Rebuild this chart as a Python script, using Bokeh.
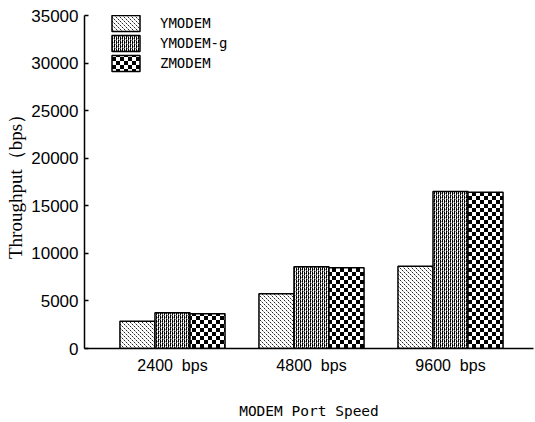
import base64
import struct
import zlib

from bokeh.plotting import figure
from bokeh.models import (ColumnDataSource, Range1d, FixedTicker, ImageURLTexture,
                          Legend, LegendItem)
from bokeh.core.properties import value
from bokeh.embed import file_html
from bokeh.resources import INLINE

# Port speeds and measured throughput (bps) for each protocol
speeds = ["2400\u00a0\u00a0bps", "4800\u00a0\u00a0bps", "9600\u00a0\u00a0bps"]
ymodem = [2870, 5750, 8650]
ymodem_g = [3750, 8590, 16500]
zmodem = [3650, 8480, 16430]
y_ticks = [0, 5000, 10000, 15000, 20000, 25000, 30000, 35000]

group_x = [i + 0.5 for i in range(len(speeds))]
bar_w = 0.252


def png_url(rows):
    """Encode a small bitmap of gray levels (0 = white, 1 = black) as a PNG data URL."""
    h, w = len(rows), len(rows[0])
    raw = b"".join(b"\x00" + bytes(int(round(255 * (1 - v))) for v in r) for r in rows)

    def chunk(tag, data):
        c = struct.pack(">I", len(data)) + tag + data
        return c + struct.pack(">I", zlib.crc32(tag + data) & 0xFFFFFFFF)

    png = (b"\x89PNG\r\n\x1a\n"
           + chunk(b"IHDR", struct.pack(">IIBBBBB", w, h, 8, 0, 0, 0, 0))
           + chunk(b"IDAT", zlib.compress(raw))
           + chunk(b"IEND", b""))
    return "data:image/png;base64," + base64.b64encode(png).decode()


# fine staggered stipple
stipple_tile = [
    [1, 0, 0, 0],
    [0, 0, 0, 0],
    [0, 0, 1, 0],
    [0, 0, 0, 0],
]
stipple_tile = [[v * 0.85 for v in r] for r in stipple_tile]
stipple_tile[1][1] = 0.35
stipple_tile[3][3] = 0.35

# dense vertical rules with small breaks
rules_tile = [
    [1, 0, 1, 0],
    [1, 0.4, 1, 0],
    [1, 0, 0.6, 0],
    [0.6, 0, 1, 0.4],
]

# black and white checkerboard
checker_tile = [[1 if (c // 4 + r // 4) % 2 == 0 else 0 for c in range(8)]
                for r in range(8)]

textures = {
    "stipple": ImageURLTexture(url=png_url(stipple_tile)),
    "rules": ImageURLTexture(url=png_url(rules_tile)),
    "checker": ImageURLTexture(url=png_url(checker_tile)),
}

p = figure(width=535, height=422, output_backend="svg", toolbar_location=None,
           x_range=Range1d(-0.133, 3.097), y_range=Range1d(0, 35000),
           min_border_left=84, min_border_right=2, min_border_top=15,
           min_border_bottom=74)
p.outline_line_color = None
p.xgrid.visible = False
p.ygrid.visible = False
p.background_fill_color = "white"
p.border_fill_color = "white"

series = [
    ("YMODEM", ymodem, -bar_w, "stipple"),
    ("YMODEM-g", ymodem_g, 0.0, "rules"),
    ("ZMODEM", zmodem, bar_w, "checker"),
]

items = []
for name, vals, off, pat in series:
    src = ColumnDataSource(dict(x=[g + off for g in group_x], top=vals))
    r = p.vbar(x="x", top="top", bottom=0, width=bar_w, source=src,
               fill_color="white", line_color="black", line_width=1.5,
               hatch_pattern=value(pat), hatch_extra={pat: textures[pat]})
    items.append(LegendItem(label=name, renderers=[r]))

legend = Legend(items=items, location=(24, 275), orientation="vertical",
                glyph_width=35, glyph_height=20, label_height=20, spacing=0,
                label_standoff=17, padding=0, margin=0,
                border_line_color=None, background_fill_alpha=0,
                label_text_font="DejaVu Sans Mono", label_text_font_size="14px",
                label_text_color="black")
p.add_layout(legend)

# x axis: group labels only, no ticks
p.xaxis.ticker = FixedTicker(ticks=group_x)
p.xaxis.major_label_overrides = {g: s for g, s in zip(group_x, speeds)}
p.xaxis.major_tick_line_color = None
p.xaxis.minor_tick_line_color = None
p.xaxis.axis_line_width = 1.5
p.xaxis.axis_line_color = "black"
p.xaxis.major_label_text_font = "Liberation Sans"
p.xaxis.major_label_text_font_size = "16px"
p.xaxis.major_label_text_color = "black"
p.xaxis.major_label_standoff = 2
p.xaxis.axis_label = "MODEM Port Speed"
p.xaxis.axis_label_text_font = "DejaVu Sans Mono"
p.xaxis.axis_label_text_font_size = "14.5px"
p.xaxis.axis_label_text_font_style = "normal"
p.xaxis.axis_label_text_color = "black"
p.xaxis.axis_label_standoff = 26

# y axis: inward ticks
p.yaxis.ticker = FixedTicker(ticks=y_ticks)
p.yaxis.major_tick_in = 4
p.yaxis.major_tick_out = 0
p.yaxis.major_tick_line_width = 1.5
p.yaxis.minor_tick_line_color = None
p.yaxis.axis_line_width = 1.5
p.yaxis.axis_line_color = "black"
p.yaxis.major_label_text_font = "Liberation Sans"
p.yaxis.major_label_text_font_size = "17px"
p.yaxis.major_label_text_color = "black"
p.yaxis.major_label_standoff = 6
p.yaxis.axis_label = "Throughput（bps）"
p.yaxis.axis_label_text_font = "Liberation Serif"
p.yaxis.axis_label_text_font_size = "19px"
p.yaxis.axis_label_text_font_style = "normal"
p.yaxis.axis_label_text_color = "black"
p.yaxis.axis_label_standoff = 2

open("out.html", "w").write(file_html(p, INLINE))
